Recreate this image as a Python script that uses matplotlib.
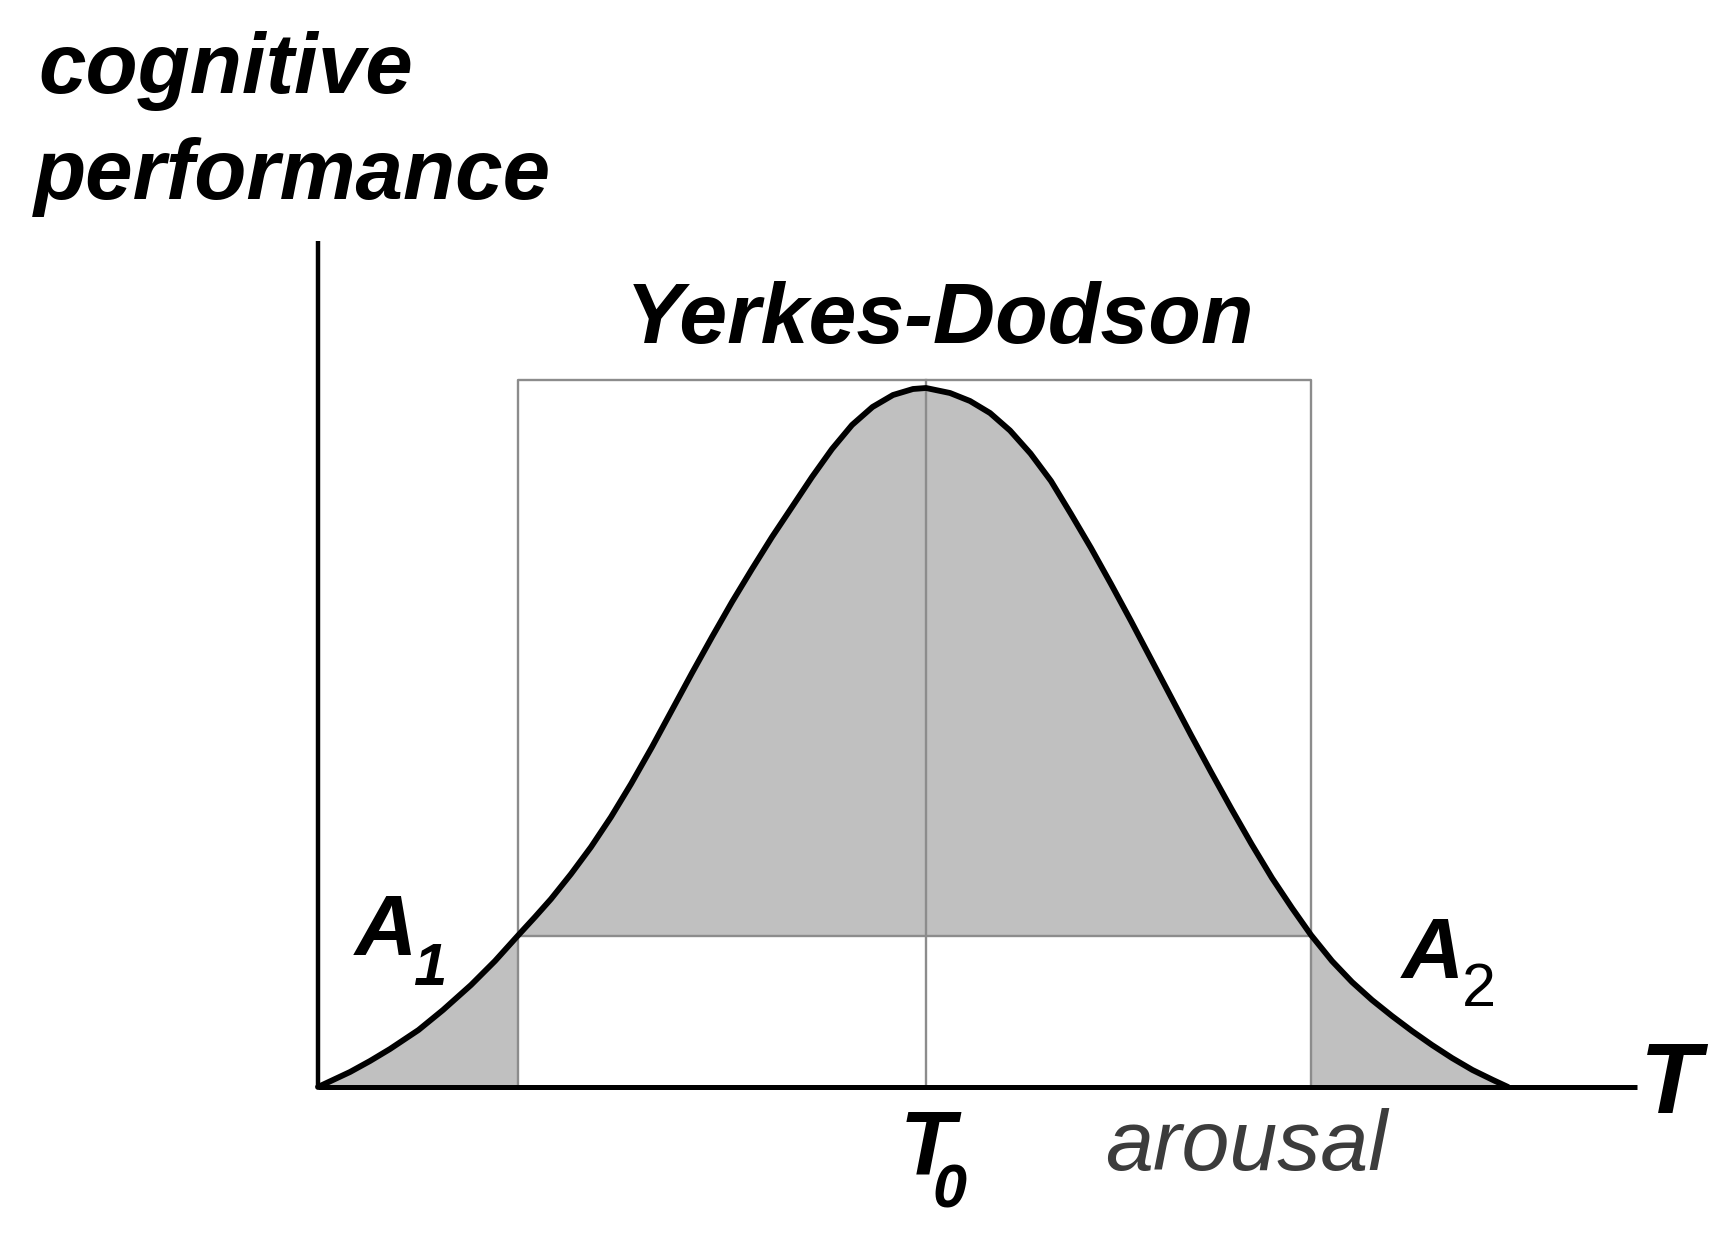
import matplotlib
matplotlib.use("Agg")
from matplotlib import pyplot as plt

# Yerkes-Dodson curve, points (arousal, performance)
curve_x = [0.0, 0.32, 0.52, 0.72, 1.005, 1.25, 1.53, 1.77, 2.00, 2.17, 2.33, 2.53,
           2.73, 2.93, 3.13, 3.34, 3.54, 3.74, 3.94, 4.14, 4.34, 4.54, 4.74, 4.94,
           5.14, 5.34, 5.545, 5.75, 5.95, 6.08, 6.32, 6.52, 6.72, 6.92, 7.125,
           7.33, 7.53, 7.73, 7.93, 8.13, 8.33, 8.53, 8.73, 8.93, 9.135, 9.335,
           9.54, 9.74, 9.93, 10.14, 10.34, 10.54, 10.74, 10.94, 11.14, 11.34,
           11.545, 11.75, 11.9]
curve_y = [0.0, 0.15, 0.26, 0.38, 0.57, 0.77, 1.02, 1.26, 1.515, 1.70, 1.88, 2.13,
           2.40, 2.70, 3.03, 3.40, 3.77, 4.14, 4.50, 4.85, 5.18, 5.50, 5.80, 6.10,
           6.38, 6.62, 6.80, 6.92, 6.98, 6.99, 6.94, 6.86, 6.74, 6.565, 6.335,
           6.06, 5.73, 5.39, 5.03, 4.66, 4.28, 3.90, 3.52, 3.15, 2.78, 2.43,
           2.09, 1.79, 1.52, 1.26, 1.05, 0.87, 0.71, 0.56, 0.42, 0.29,
           0.17, 0.07, 0.0]

a1_edge = 2.0       # left edge of the optimal band
a2_edge = 9.93      # right edge of the optimal band
t0 = 6.08           # optimum arousal
threshold = 1.515   # performance level at the band edges
box_top = 7.07      # top of the box around the peak
x_axis_end = 13.19
y_axis_end = 8.46

FONT = "Liberation Sans"
fill_grey = "#c0c0c0"
line_grey = "#8c8c8c"

fig = plt.figure(figsize=(17.33, 12.44), dpi=100)
ax = fig.add_axes([0, 0, 1, 1])
ax.set_xlim(-3.18, 14.15)
ax.set_ylim(-1.57, 10.87)
ax.axis("off")

# grey area under the curve, minus the white block inside the band
ax.fill_between(curve_x, curve_y, 0, color=fill_grey, lw=0, zorder=1)
ax.fill_between([a1_edge, a2_edge], 0, threshold, color="white", lw=0, zorder=2)

# thin grey box / guide lines
ax.plot([a1_edge, a1_edge, a2_edge, a2_edge], [0, box_top, box_top, 0],
        color=line_grey, lw=1.7, zorder=3)
ax.plot([a1_edge, a2_edge], [threshold, threshold], color=line_grey, lw=1.7, zorder=3)
ax.plot([t0, t0], [0, box_top], color=line_grey, lw=1.7, zorder=3)

# the curve
ax.plot(curve_x, curve_y, color="black", lw=4.2, solid_joinstyle="round",
        solid_capstyle="round", zorder=5)

# axes
ax.plot([0, x_axis_end], [0, 0], color="black", lw=3.6, solid_capstyle="butt", zorder=6)
ax.plot([0, 0], [0, y_axis_end], color="black", lw=3.2, solid_capstyle="butt", zorder=6)

bi = dict(family=FONT, weight="bold", style="italic", color="black")

ax.text(-2.80, 9.94, "cognitive", fontsize=61.5, ha="left", va="baseline", **bi)
ax.text(-2.84, 8.88, "performance", fontsize=61.5, ha="left", va="baseline", **bi)
ax.text(6.22, 7.44, "Yerkes-Dodson", fontsize=62, ha="center", va="baseline", **bi)

ax.text(0.37, 1.32, "A", fontsize=62, ha="left", va="baseline", **bi)
ax.text(0.95, 1.02, "1", fontsize=43, ha="left", va="baseline", **bi)

ax.text(10.84, 1.09, "A", fontsize=62, ha="left", va="baseline", **bi)
ax.text(11.44, 0.81, "2", fontsize=44, ha="left", va="baseline",
        family=FONT, color="black")

ax.text(13.22, -0.26, "T", fontsize=72, ha="left", va="baseline", **bi)

ax.text(5.82, -0.88, "T", fontsize=65, ha="left", va="baseline", **bi)
ax.text(6.14, -1.20, "0", fontsize=44, ha="left", va="baseline", **bi)

ax.text(7.87, -0.83, "arousal", fontsize=62, ha="left", va="baseline",
        family=FONT, style="italic", color="#3c3c3c")

plt.savefig("out.png", dpi=100, facecolor="white")
